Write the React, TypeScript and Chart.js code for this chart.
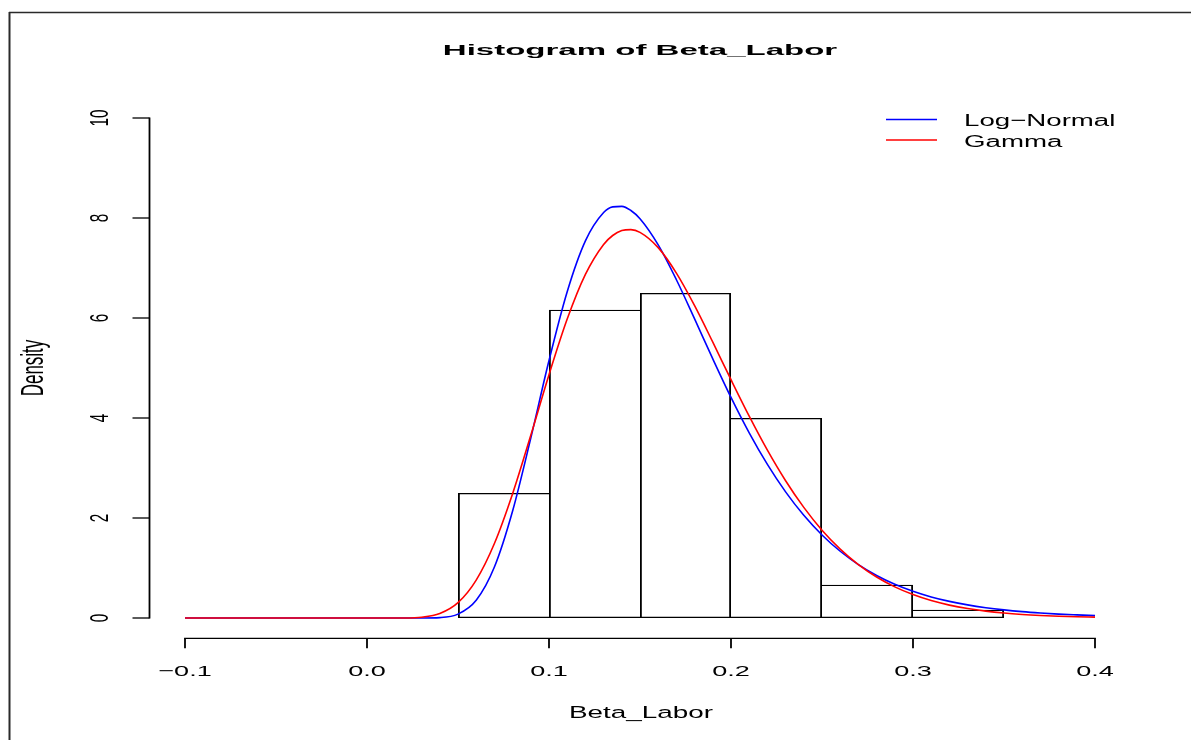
import React, { useEffect, useRef } from "react";
import { Chart, registerables } from "chart.js";

Chart.register(...registerables);

// ---------- data ----------
const binMids = [0.075, 0.125, 0.175, 0.225, 0.275, 0.325];
const binDensity = [2.5, 6.1667, 6.5, 4.0, 0.6667, 0.1667];

const curveX = [
  -0.1, -0.05, 0, 0.01, 0.02, 0.03, 0.04, 0.05, 0.06, 0.07, 0.08, 0.09, 0.1,
  0.11, 0.12, 0.13, 0.135, 0.14, 0.145, 0.15, 0.16, 0.17, 0.18, 0.19, 0.2,
  0.21, 0.22, 0.23, 0.24, 0.25, 0.26, 0.27, 0.28, 0.29, 0.3, 0.31, 0.32, 0.33,
  0.34, 0.35, 0.36, 0.37, 0.38, 0.39, 0.4,
];
const logNormalY = [
  0, 0, 0, 0, 0, 0.0002, 0.0078, 0.077, 0.354, 1.019, 2.14, 3.599, 5.15,
  6.526, 7.542, 8.109, 8.223, 8.233, 8.15, 7.985, 7.462, 6.765, 5.982, 5.182, 4.412,
  3.703, 3.072, 2.523, 2.054, 1.661, 1.335, 1.068, 0.851, 0.675, 0.535, 0.422, 0.333, 0.262,
  0.206, 0.162, 0.127, 0.1, 0.078, 0.062, 0.048,
];
const gammaY = [
  0, 0, 0, 0, 0.001, 0.0157, 0.0899, 0.307, 0.758, 1.489, 2.485, 3.654, 4.865,
  5.978, 6.872, 7.472, 7.65, 7.748, 7.767, 7.713, 7.407, 6.897, 6.246, 5.516, 4.766,
  4.037, 3.357, 2.746, 2.212, 1.756, 1.378, 1.068, 0.819, 0.622, 0.468, 0.348, 0.258, 0.189,
  0.137, 0.099, 0.0713, 0.0509, 0.0361, 0.0254, 0.0179,
];

const xTicks = [-0.1, 0, 0.1, 0.2, 0.3, 0.4];
const xTickLabels = ["\u22120.1", "0.0", "0.1", "0.2", "0.3", "0.4"];
const yTicks = [0, 2, 4, 6, 8, 10];
const yTickLabels = ["0", "2", "4", "6", "8", "10"];

const titleText = "Histogram of Beta_Labor";
const xLabelText = "Beta_Labor";
const yLabelText = "Density";
const seriesNames = ["Log\u2212Normal", "Gamma"];
const seriesColors = ["#0000FF", "#FF0000"];

// ---------- drawing helpers ----------
const FONT = '"Liberation Sans", Arial, Helvetica, sans-serif';

function drawText(
  ctx: CanvasRenderingContext2D,
  s: string,
  x: number,
  y: number,
  size: number,
  sx: number,
  opts: { bold?: boolean; align?: CanvasTextAlign; rotate?: boolean } = {}
) {
  ctx.save();
  ctx.translate(x, y);
  ctx.scale(sx, 1);
  if (opts.rotate) ctx.rotate(-Math.PI / 2);
  ctx.font = `${opts.bold ? "bold " : ""}${size}px ${FONT}`;
  ctx.textAlign = opts.align || "center";
  ctx.textBaseline = "alphabetic";
  ctx.fillStyle = "#000";
  ctx.fillText(s, 0, 0);
  ctx.restore();
}

function seg(ctx: CanvasRenderingContext2D, x1: number, y1: number, x2: number, y2: number, w: number) {
  ctx.lineWidth = w;
  ctx.beginPath();
  ctx.moveTo(x1, y1);
  ctx.lineTo(x2, y2);
  ctx.stroke();
}

const decorPlugin = {
  id: "decor",
  afterDraw(chart: any) {
    const ctx: CanvasRenderingContext2D = chart.ctx;
    const xs = chart.scales.x;
    const ys = chart.scales.y;
    const area = chart.chartArea;
    ctx.save();

    // outer frame (top and left)
    ctx.strokeStyle = "#2a2a2a";
    seg(ctx, 9, 12.5, chart.width, 12.5, 1.3);
    seg(ctx, 9.5, 12, 9.5, chart.height, 2);

    ctx.strokeStyle = "#000";
    // y axis
    const axX = area.left - 35.5;
    const yTop = ys.getPixelForValue(yTicks[yTicks.length - 1]);
    const yBot = ys.getPixelForValue(yTicks[0]);
    seg(ctx, axX, yTop - 0.6, axX, yBot + 0.6, 1.8);
    yTicks.forEach((v, i) => {
      const py = ys.getPixelForValue(v);
      seg(ctx, axX - 17, py, axX, py, 1.3);
      drawText(ctx, yTickLabels[i], axX - 42, py, 15.3, 1.73, { rotate: true });
    });

    // x axis
    const axY = area.bottom + 20.3;
    const xL = xs.getPixelForValue(xTicks[0]);
    const xR = xs.getPixelForValue(xTicks[xTicks.length - 1]);
    seg(ctx, xL - 0.9, axY, xR + 0.9, axY, 1.3);
    xTicks.forEach((v, i) => {
      const px = xs.getPixelForValue(v);
      seg(ctx, px, axY, px, axY + 10, 1.8);
      drawText(ctx, xTickLabels[i], px, axY + 37.7, 15.4, 1.76);
    });

    // titles
    const cx = (area.left + area.right) / 2;
    drawText(ctx, titleText, cx, 54.5, 15.5, 2.13, { bold: true });
    drawText(ctx, xLabelText, cx + 1, 717.5, 16.3, 1.71);
    drawText(ctx, yLabelText, 43, 368, 17, 1.8, { rotate: true });

    // legend
    const legY = [119.5, 140];
    const legBase = [126, 146.5];
    seriesNames.forEach((n, i) => {
      ctx.strokeStyle = seriesColors[i];
      seg(ctx, 886, legY[i], 937, legY[i], 1.3);
      drawText(ctx, n, 964, legBase[i], 17.3, 1.6, { align: "left" });
    });

    ctx.restore();
  },
};

export default function App() {
  const ref = useRef<HTMLCanvasElement>(null);

  useEffect(() => {
    const canvas = ref.current;
    if (!canvas) return;
    const chart = new Chart(canvas, {
      type: "line",
      data: {
        datasets: [
          {
            type: "line",
            label: seriesNames[1],
            data: curveX.map((x, i) => ({ x, y: gammaY[i] })),
            borderColor: seriesColors[1],
            borderWidth: 1.6,
            pointRadius: 0,
            fill: false,
            tension: 0.4,
            cubicInterpolationMode: "monotone",
            clip: false,
            order: 0,
          } as any,
          {
            type: "line",
            label: seriesNames[0],
            data: curveX.map((x, i) => ({ x, y: logNormalY[i] })),
            borderColor: seriesColors[0],
            borderWidth: 1.6,
            pointRadius: 0,
            fill: false,
            tension: 0.4,
            cubicInterpolationMode: "monotone",
            clip: false,
            order: 1,
          } as any,
          {
            type: "bar",
            label: "hist",
            data: binMids.map((x, i) => ({ x, y: binDensity[i] })),
            backgroundColor: "rgba(0,0,0,0)",
            borderColor: "#000",
            borderSkipped: false,
            inflateAmount: 0,
            borderWidth: (c: any) => {
              const i = c.dataIndex;
              const d = binDensity;
              if (i === undefined) return 1.3;
              const v = 1.8;
              const h = 1.3;
              return {
                top: h,
                bottom: h,
                left: i === 0 || d[i] >= d[i - 1] ? v : 0,
                right: i === d.length - 1 || d[i] > d[i + 1] ? v : 0,
              };
            },
            barPercentage: 1,
            categoryPercentage: 1,
            clip: false,
            order: 2,
          } as any,
        ],
      },
      options: {
        responsive: false,
        animation: false,
        devicePixelRatio: 1,
        events: [],
        layout: { padding: { left: 185, right: 96, top: 118, bottom: 122 } },
        scales: {
          x: {
            type: "linear",
            min: -0.1,
            max: 0.4,
            offset: false,
            display: false,
            grid: { offset: false },
            ticks: { stepSize: 0.1 },
          },
          y: {
            type: "linear",
            min: 0,
            max: 10,
            display: false,
            ticks: { stepSize: 2 },
          },
        },
        plugins: {
          legend: { display: false },
          title: { display: false },
          tooltip: { enabled: false },
        },
      },
      plugins: [decorPlugin],
    });
    return () => chart.destroy();
  }, []);

  return (
    <canvas
      ref={ref}
      width={1191}
      height={740}
      style={{ position: "absolute", left: 0, top: 0, width: "1191px", height: "740px", display: "block" }}
    />
  );
}
